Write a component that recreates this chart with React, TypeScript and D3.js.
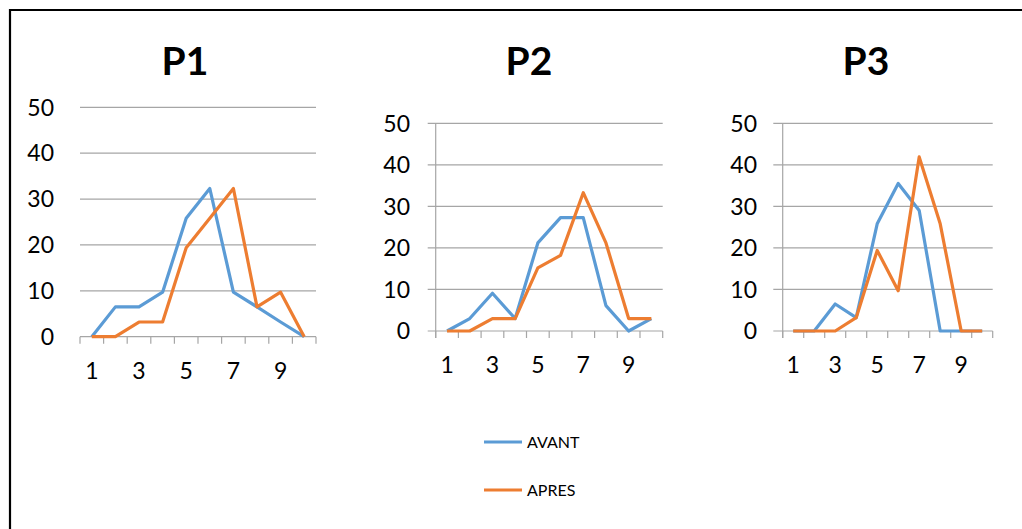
import React from "react";
import * as d3 from "d3";

const categories = [1, 2, 3, 4, 5, 6, 7, 8, 9, 10];
const xTickLabels = [1, 3, 5, 7, 9];
const yTicks = [0, 10, 20, 30, 40, 50];
const seriesNames = ["AVANT", "APRES"];
const seriesColors = ["#5B9BD5", "#ED7D31"];

const p1Avant = [0, 6.5, 6.5, 9.7, 25.8, 32.3, 9.7, 6.5, 3.2, 0];
const p1Apres = [0, 0, 3.2, 3.2, 19.4, 25.8, 32.3, 6.5, 9.7, 0];
const p2Avant = [0, 3.0, 9.1, 3.0, 21.2, 27.3, 27.3, 6.1, 0, 3.0];
const p2Apres = [0, 0, 3.0, 3.0, 15.2, 18.2, 33.3, 21.2, 3.0, 3.0];
const p3Avant = [0, 0, 6.5, 3.2, 25.8, 35.5, 29.0, 0, 0, 0];
const p3Apres = [0, 0, 0, 3.2, 19.4, 9.7, 41.9, 25.8, 0, 0];

const panels = [
  { title: "P1", avant: p1Avant, apres: p1Apres, left: 80, right: 316, top: 107.3, bottom: 336.7, gridStart: 80, vline: false, labelRight: 54, titleX: 185 },
  { title: "P2", avant: p2Avant, apres: p2Apres, left: 435.7, right: 662.7, top: 123.3, bottom: 331, gridStart: 427.7, vline: true, labelRight: 410, titleX: 529 },
  { title: "P3", avant: p3Avant, apres: p3Apres, left: 782.7, right: 992.7, top: 123.3, bottom: 331, gridStart: 773.3, vline: true, labelRight: 757, titleX: 866 },
];

const FONT = "Lato, 'Open Sans', sans-serif";
const GRID = "#A6A6A6";

function Panel({ p }: { p: (typeof panels)[number] }) {
  const x = d3.scaleLinear().domain([0.5, 10.5]).range([p.left, p.right]);
  const y = d3.scaleLinear().domain([0, 50]).range([p.bottom, p.top]);
  const line = d3
    .line<number>()
    .x((_, i) => x(categories[i]))
    .y((d) => y(d));
  const tickEdges = d3.range(0.5, 11.5, 1);
  return (
    <g>
      <text x={p.titleX} y={75} textAnchor="middle" fontFamily={FONT} fontWeight="bold" fontSize={39} fill="#000">
        {p.title}
      </text>
      {yTicks.map((t) => (
        <g key={t}>
          <line x1={p.gridStart} x2={p.right} y1={y(t)} y2={y(t)} stroke={GRID} strokeWidth={1.2} />
          <text x={p.labelRight} y={y(t) + 8.3} textAnchor="end" fontFamily={FONT} fontSize={23} fill="#000">
            {t}
          </text>
        </g>
      ))}
      {p.vline && <line x1={p.left} x2={p.left} y1={p.top} y2={p.bottom + 7} stroke={GRID} strokeWidth={1.2} />}
      {tickEdges.map((e) => (
        <line key={e} x1={x(e)} x2={x(e)} y1={p.bottom} y2={p.bottom + 7} stroke={GRID} strokeWidth={1.2} />
      ))}
      {xTickLabels.map((c) => (
        <text key={c} x={x(c)} y={p.bottom + 42} textAnchor="middle" fontFamily={FONT} fontSize={23} fill="#000">
          {c}
        </text>
      ))}
      <path d={line(p.avant) || ""} fill="none" stroke={seriesColors[0]} strokeWidth={3.2} strokeLinejoin="round" />
      <path d={line(p.apres) || ""} fill="none" stroke={seriesColors[1]} strokeWidth={3.2} strokeLinejoin="round" />
    </g>
  );
}

export default function App() {
  const legendY = [442, 490];
  return (
    <div style={{ position: "absolute", left: 0, top: 0 }}>
      <svg width={1022} height={529} style={{ display: "block", background: "#fff" }}>
        <rect x={0} y={0} width={1022} height={529} fill="#fff" />
        <path d="M10,529 L10,10 L1022,10" fill="none" stroke="#000" strokeWidth={2.2} />
        {panels.map((p) => (
          <Panel key={p.title} p={p} />
        ))}
        {seriesNames.map((s, i) => (
          <g key={s}>
            <line x1={484} x2={522} y1={legendY[i]} y2={legendY[i]} stroke={seriesColors[i]} strokeWidth={3} />
            <text x={527} y={legendY[i] + 6} fontFamily={FONT} fontSize={16} fill="#000">
              {s}
            </text>
          </g>
        ))}
      </svg>
    </div>
  );
}
